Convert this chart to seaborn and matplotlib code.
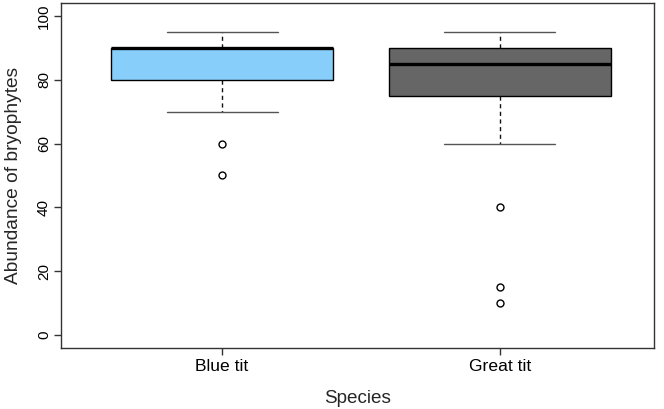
import numpy as np
import pandas as pd
import seaborn as sns
import matplotlib
matplotlib.use('Agg')
import matplotlib.pyplot as plt

sns.set_theme(style="white")
plt.rcParams['font.family'] = ['Liberation Sans', 'DejaVu Sans']

# raw observations per species (chosen so the box stats match the picture)
blue_tit = [50, 60, 70, 80, 80, 85, 90, 90, 90, 90, 90, 95, 95]
great_tit = [10, 15, 40, 60, 75, 75, 80, 80, 85, 85, 90, 90, 90, 90, 90, 95, 95]
species = ['Blue tit', 'Great tit']
box_colors = ['#87CEFA', '#666666']

df = pd.DataFrame({
    'Species': [species[0]] * len(blue_tit) + [species[1]] * len(great_tit),
    'Abundance of bryophytes': blue_tit + great_tit,
})

fig = plt.figure(figsize=(6.64, 4.09), dpi=100)
ax = fig.add_axes([0.0919, 0.149, 0.893, 0.844])

sns.boxplot(data=df, x='Species', y='Abundance of bryophytes', hue='Species',
            order=species, hue_order=species, palette=box_colors, legend=False,
            saturation=1, width=0.8, linecolor='black', linewidth=1.0,
            whiskerprops=dict(linestyle=(0, (3, 2.5)), color='#111111'),
            capprops=dict(color='#555555'),
            medianprops=dict(linewidth=2.4, color='black'),
            flierprops=dict(marker='o', markerfacecolor='none', markeredgecolor='black',
                            markersize=5, markeredgewidth=1.0),
            ax=ax)

ax.set_xlim(-0.58, 1.555)
ax.set_ylim(-4.1, 104.1)
ax.set_yticks([0, 20, 40, 60, 80, 100])
for lab in ax.get_yticklabels():
    lab.set_rotation(90)
    lab.set_va('center')

for s in ax.spines.values():
    s.set_visible(True)
    s.set_color('#333333')
    s.set_linewidth(1.0)

ax.tick_params(axis='both', which='both', direction='out', length=5, width=1.0,
               color='#333333', labelcolor='black', left=True, bottom=True)
ax.tick_params(axis='x', labelsize=12.6, pad=3)
ax.tick_params(axis='y', labelsize=11, pad=2.2)
ax.set_xlabel('Species', fontsize=13.6, labelpad=11.5)
ax.set_ylabel('Abundance of bryophytes', fontsize=13.8, labelpad=10.5)

fig.savefig('out.png', dpi=100)
